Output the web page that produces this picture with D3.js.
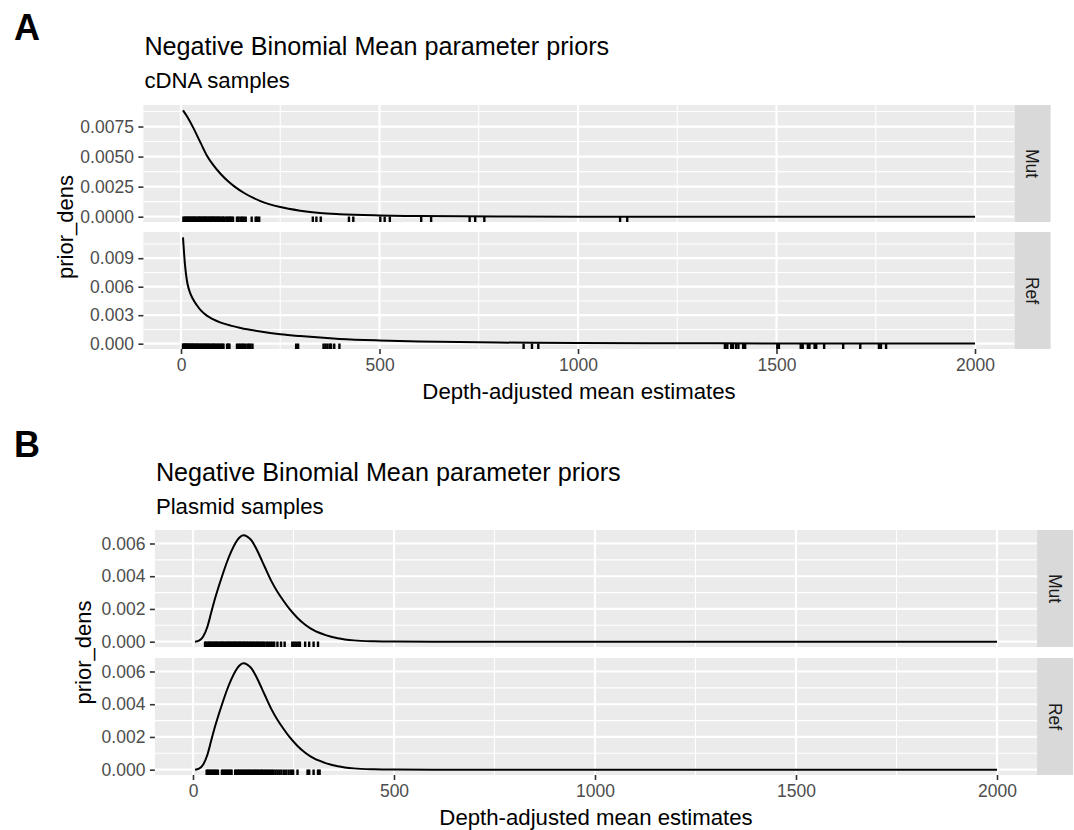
<!DOCTYPE html>
<meta charset="utf-8">
<head>
<style>
  body { margin: 0; background: #fff; }
  text { font-family: "Liberation Sans", Arial, sans-serif; }
</style>
</head>
<script src="https://d3js.org/d3.v7.min.js"></script>
<div id="chart"></div>
<script>

// axis breaks
var xTicks = [0, 500, 1000, 1500, 2000];
var xMinor = [250, 750, 1250, 1750];
var cdnaMutTicks = [0, 0.0025, 0.005, 0.0075];
var cdnaMutMinor = [0.00125, 0.00375, 0.00625, 0.00875];
var cdnaRefTicks = [0, 0.003, 0.006, 0.009];
var cdnaRefMinor = [0.0015, 0.0045, 0.0075, 0.0105];
var plasmidTicks = [0, 0.002, 0.004, 0.006];
var plasmidMinor = [0.001, 0.003, 0.005];

// prior density curves: [mean, prior_dens]
var cdnaMutCurve = [[5,0.00885],[15,0.00835],[30,0.00745],[50,0.0061],[65,0.0051],[80,0.00435],
  [100,0.00355],[120,0.0029],[135,0.0025],[160,0.00195],[200,0.0013],[250,0.0008],[300,0.0005],
  [350,0.0003],[400,0.0002],[500,0.0001],[600,0.00005],[800,0.000012],[1000,0.000003],
  [1500,0.0000001],[2000,0]];
var cdnaRefCurve = [[5,0.0112],[10,0.0083],[15,0.0066],[20,0.0057],[30,0.0047],[40,0.00405],
  [50,0.0035],[65,0.00295],[80,0.00258],[100,0.00222],[125,0.0019],[150,0.00165],[200,0.00128],
  [250,0.001],[300,0.0008],[400,0.0005],[500,0.00034],[600,0.00024],[700,0.00017],[800,0.00012],
  [1000,0.00007],[1200,0.000045],[1500,0.000025],[2000,0.00001]];
var plasmidMutCurve = [[5,0],[15,0.00006],[25,0.0003],[35,0.00085],[45,0.00175],[55,0.00265],
  [65,0.00345],[75,0.0042],[85,0.0049],[95,0.0055],[105,0.006],[115,0.00635],[125,0.0065],
  [135,0.00642],[145,0.0062],[155,0.0058],[165,0.0053],[175,0.00476],[185,0.00422],[195,0.0037],
  [210,0.00305],[225,0.0025],[240,0.002],[260,0.00145],[280,0.00102],[300,0.0007],[330,0.0004],
  [360,0.00021],[400,0.00008],[450,0.000025],[500,0.000008],[600,0.000001],[800,0],[2000,0]];
var plasmidRefCurve = [[5,0],[15,0.00006],[25,0.0003],[35,0.00085],[45,0.00175],[55,0.00265],
  [65,0.00345],[75,0.0042],[85,0.0049],[95,0.0055],[105,0.006],[115,0.00635],[125,0.0065],
  [135,0.00642],[145,0.0062],[155,0.0058],[165,0.0053],[175,0.00476],[185,0.00422],[195,0.0037],
  [210,0.00305],[225,0.0025],[240,0.002],[260,0.00145],[280,0.00102],[300,0.0007],[330,0.0004],
  [360,0.00021],[400,0.00008],[450,0.000025],[500,0.000008],[600,0.000001],[800,0],[2000,0]];

// rug: depth-adjusted mean estimates
var cdnaMutRug = [6, 9, 12, 14, 17, 20, 22, 25, 28, 31, 33, 36, 39, 42, 45, 47, 50, 53, 56, 59, 61,
  64, 67, 70, 73, 76, 79, 81, 84, 87, 90, 93, 96, 99, 103, 106, 109, 114, 117, 121, 124, 127, 131,
  141, 145, 150, 154, 158, 163, 178, 188, 192, 197, 332, 341, 352, 423, 434, 502, 513, 526, 605,
  630, 727, 741, 764, 1106, 1124];
var cdnaRefRug = [5, 7, 9, 11, 13, 15, 18, 20, 22, 25, 27, 30, 32, 35, 38, 40, 43, 46, 49, 52, 55,
  58, 61, 64, 67, 70, 73, 77, 80, 83, 86, 90, 93, 97, 100, 104, 107, 116, 119, 122, 141, 145, 149,
  153, 157, 161, 167, 171, 175, 180, 290, 295, 359, 364, 369, 375, 378, 386, 399, 863, 884, 900,
  1370, 1376, 1386, 1390, 1398, 1404, 1416, 1421, 1502, 1506, 1561, 1566, 1579, 1583, 1596, 1600,
  1620, 1668, 1711, 1758, 1763, 1776];
var plasmidMutRug = [30, 33, 37, 40, 43, 46, 49, 53, 56, 59, 62, 66, 69, 72, 75, 78, 82, 85, 88, 91,
  94, 98, 101, 104, 107, 111, 114, 117, 120, 124, 127, 130, 134, 137, 141, 144, 148, 151, 155, 159,
  162, 166, 170, 174, 178, 183, 187, 192, 197, 202, 210, 219, 228, 247, 252, 257, 262, 266, 279,
  289, 300, 311];
var plasmidRefRug = [34, 37, 41, 44, 48, 51, 55, 58, 62, 72, 75, 79, 82, 86, 89, 93, 96, 105, 108,
  112, 115, 119, 122, 126, 129, 133, 136, 140, 143, 147, 151, 154, 158, 161, 165, 169, 172, 176, 180,
  184, 188, 192, 196, 200, 205, 210, 215, 220, 226, 232, 238, 244, 249, 260, 285, 289, 300, 311, 315];

var svg = d3.select("#chart").append("svg")
    .attr("width", 1074)
    .attr("height", 830);

var panelH = 117, stripW = 36;

// ggplot style 5% expansion
function expand(ext) {
  var r = ext[1] - ext[0];
  return [ext[0] - 0.05 * r, ext[1] + 0.05 * r];
}

function facet(x, top, curve, rug, ticks, minor, fmt, strip) {
  var left = x.range()[0], right = x.range()[1];
  var y = d3.scaleLinear()
    .domain(expand([0, d3.max(curve, function(d) { return d[1]; })]))
    .range([top + panelH, top]);
  var g = svg.append("g");

  g.append("rect")
    .attr("x", left).attr("y", top)
    .attr("width", right - left).attr("height", panelH)
    .attr("fill", "#EBEBEB");

  // minor grid
  g.selectAll(".hmin").data(minor).enter().append("line")
    .attr("x1", left).attr("x2", right)
    .attr("y1", function(d) { return y(d); }).attr("y2", function(d) { return y(d); })
    .attr("stroke", "#fff").attr("stroke-width", 1.1);
  g.selectAll(".vmin").data(xMinor).enter().append("line")
    .attr("y1", top).attr("y2", top + panelH)
    .attr("x1", function(d) { return x(d); }).attr("x2", function(d) { return x(d); })
    .attr("stroke", "#fff").attr("stroke-width", 1.1);
  // major grid
  g.selectAll(".hmaj").data(ticks).enter().append("line")
    .attr("x1", left).attr("x2", right)
    .attr("y1", function(d) { return y(d); }).attr("y2", function(d) { return y(d); })
    .attr("stroke", "#fff").attr("stroke-width", 2.2);
  g.selectAll(".vmaj").data(xTicks).enter().append("line")
    .attr("y1", top).attr("y2", top + panelH)
    .attr("x1", function(d) { return x(d); }).attr("x2", function(d) { return x(d); })
    .attr("stroke", "#fff").attr("stroke-width", 2.2);

  // density line
  var line = d3.line()
    .x(function(d) { return x(d[0]); })
    .y(function(d) { return y(d[1]); })
    .curve(d3.curveMonotoneX);
  g.append("path").datum(curve)
    .attr("d", line)
    .attr("fill", "none").attr("stroke", "#000").attr("stroke-width", 2);

  // rug along bottom
  g.selectAll(".rug").data(rug).enter().append("line")
    .attr("x1", function(d) { return x(d); }).attr("x2", function(d) { return x(d); })
    .attr("y1", top + panelH).attr("y2", top + panelH - 5.5)
    .attr("stroke", "#000").attr("stroke-width", 2.4);

  // y axis
  var ya = g.append("g")
    .attr("transform", "translate(" + left + ",0)")
    .call(d3.axisLeft(y).tickValues(ticks).tickFormat(d3.format(fmt)).tickSize(5).tickPadding(4.5));
  ya.select(".domain").remove();
  ya.selectAll("line").attr("stroke", "#333").attr("stroke-width", 1.6);
  ya.selectAll("text").attr("fill", "#4D4D4D")
    .style("font-size", "17.5px").style("font-family", "Liberation Sans, Arial, sans-serif");

  // strip on the right
  g.append("rect")
    .attr("x", right).attr("y", top)
    .attr("width", stripW).attr("height", panelH)
    .attr("fill", "#D9D9D9");
  g.append("text")
    .attr("transform", "translate(" + (right + stripW / 2) + "," + (top + panelH / 2) + ") rotate(90)")
    .attr("text-anchor", "middle")
    .attr("dy", "0.35em")
    .attr("fill", "#1A1A1A")
    .style("font-size", "17.5px")
    .text(strip);
  return y;
}

function figure(o) {
  var x = d3.scaleLinear()
    .domain(expand(d3.extent(o.mut.curve, function(d) { return d[0]; })))
    .range([o.left, o.left + o.width]);

  svg.append("text")
    .attr("x", 14).attr("y", o.letterY)
    .style("font-size", "36px").style("font-weight", "bold")
    .text(o.letter);
  svg.append("text")
    .attr("x", o.left + 1).attr("y", o.titleY)
    .style("font-size", "25.2px")
    .text("Negative Binomial Mean parameter priors");
  svg.append("text")
    .attr("x", o.left + 1).attr("y", o.titleY + 33)
    .style("font-size", "22.2px")
    .text(o.subtitle);

  var top1 = o.top, top2 = o.top + panelH + o.gap;
  facet(x, top1, o.mut.curve, o.mut.rug, o.mut.ticks, o.mut.minor, o.mut.fmt, "Mut");
  facet(x, top2, o.ref.curve, o.ref.rug, o.ref.ticks, o.ref.minor, o.ref.fmt, "Ref");

  var bottom = top2 + panelH;
  var xa = svg.append("g")
    .attr("transform", "translate(0," + bottom + ")")
    .call(d3.axisBottom(x).tickValues(xTicks).tickFormat(d3.format("d")).tickSize(5).tickPadding(4.5));
  xa.select(".domain").remove();
  xa.selectAll("line").attr("stroke", "#333").attr("stroke-width", 1.6);
  xa.selectAll("text").attr("fill", "#4D4D4D")
    .style("font-size", "17.5px").style("font-family", "Liberation Sans, Arial, sans-serif");

  svg.append("text")
    .attr("x", o.left + o.width / 2).attr("y", bottom + 49.5)
    .attr("text-anchor", "middle")
    .style("font-size", "22.2px")
    .text("Depth-adjusted mean estimates");

  svg.append("text")
    .attr("transform", "translate(" + o.yTitleX + "," + ((top1 + bottom) / 2) + ") rotate(-90)")
    .attr("text-anchor", "middle")
    .attr("dy", "0.35em")
    .style("font-size", "22px")
    .text("prior_dens");
}

figure({
  letter: "A", letterY: 40, titleY: 55, subtitle: "cDNA samples",
  left: 143.4, width: 871.2, top: 105, gap: 10, yTitleX: 65,
  mut: {curve: cdnaMutCurve, rug: cdnaMutRug, ticks: cdnaMutTicks, minor: cdnaMutMinor, fmt: ".4f"},
  ref: {curve: cdnaRefCurve, rug: cdnaRefRug, ticks: cdnaRefTicks, minor: cdnaRefMinor, fmt: ".3f"}
});

figure({
  letter: "B", letterY: 457, titleY: 481, subtitle: "Plasmid samples",
  left: 154.9, width: 882.2, top: 530, gap: 11, yTitleX: 83,
  mut: {curve: plasmidMutCurve, rug: plasmidMutRug, ticks: plasmidTicks, minor: plasmidMinor, fmt: ".3f"},
  ref: {curve: plasmidRefCurve, rug: plasmidRefRug, ticks: plasmidTicks, minor: plasmidMinor, fmt: ".3f"}
});

</script>
